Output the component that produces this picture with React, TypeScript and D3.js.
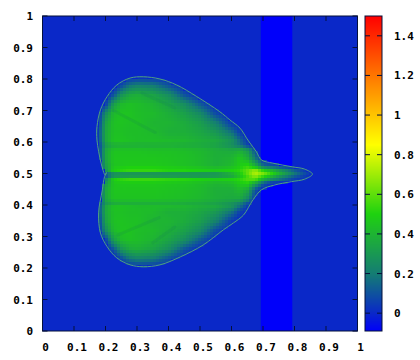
import React from "react";
import * as d3 from "d3";

const axisTicks = [0, 0.1, 0.2, 0.3, 0.4, 0.5, 0.6, 0.7, 0.8, 0.9, 1];
const colorTicks = [0, 0.2, 0.4, 0.6, 0.8, 1, 1.2, 1.4];
const colorDomain = [-0.09, 1.5];
const paletteValues = [-0.09, 0, 0.2, 0.4, 0.5, 0.85, 1.5];
const paletteColors = ["#0000fa", "#0a28c8", "#147d73", "#1eb432", "#1ed20f", "#ffff00", "#ff0000"];
const baseValue = 0;
const bandValue = -0.09;
const bandRange = [0.693, 0.793];

const outlineX = [0.199, 0.186, 0.173, 0.173, 0.184, 0.205, 0.236, 0.278, 0.32, 0.373, 0.426, 0.49, 0.563, 0.595, 0.627, 0.652, 0.679, 0.695, 0.731, 0.794, 0.832, 0.857, 0.832, 0.79, 0.735, 0.695, 0.668, 0.638, 0.606, 0.574, 0.51, 0.437, 0.373, 0.32, 0.278, 0.236, 0.205, 0.184, 0.178, 0.19, 0.197, 0.203];
const outlineY = [0.495, 0.533, 0.606, 0.649, 0.702, 0.744, 0.781, 0.803, 0.807, 0.8, 0.781, 0.744, 0.696, 0.67, 0.644, 0.606, 0.569, 0.543, 0.533, 0.521, 0.514, 0.498, 0.482, 0.474, 0.463, 0.448, 0.416, 0.368, 0.343, 0.321, 0.273, 0.235, 0.21, 0.204, 0.21, 0.232, 0.268, 0.311, 0.375, 0.448, 0.49, 0.503];

const gridX = [0.15, 0.175, 0.2, 0.225, 0.25, 0.275, 0.3, 0.35, 0.4, 0.45, 0.5, 0.55, 0.6, 0.625, 0.65, 0.675, 0.7, 0.725, 0.75, 0.8, 0.85, 0.875];
const gridY = [0.2, 0.23, 0.26, 0.29, 0.32, 0.35, 0.38, 0.395, 0.406, 0.42, 0.45, 0.47, 0.483, 0.495, 0.503, 0.511, 0.525, 0.55, 0.575, 0.59, 0.605, 0.63, 0.66, 0.69, 0.72, 0.75, 0.78, 0.81];
const gridValues = [
  [0, 0, 0, 0, 0, 0, 0, 0, 0, 0, 0, 0, 0, 0, 0, 0, 0, 0, 0, 0, 0, 0],
  [0, 0, 0, 0, 0.08, 0.18, 0.22, 0.2, 0.1, 0, 0, 0, 0, 0, 0, 0, 0, 0, 0, 0, 0, 0],
  [0, 0, 0, 0.1, 0.28, 0.36, 0.38, 0.34, 0.26, 0.1, 0, 0, 0, 0, 0, 0, 0, 0, 0, 0, 0, 0],
  [0, 0, 0.06, 0.32, 0.42, 0.44, 0.43, 0.4, 0.34, 0.26, 0.12, 0, 0, 0, 0, 0, 0, 0, 0, 0, 0, 0],
  [0, 0, 0.26, 0.42, 0.45, 0.45, 0.43, 0.42, 0.38, 0.33, 0.25, 0.08, 0, 0, 0, 0, 0, 0, 0, 0, 0, 0],
  [0, 0.01, 0.34, 0.44, 0.45, 0.44, 0.44, 0.4, 0.4, 0.37, 0.32, 0.22, 0.04, 0, 0, 0, 0, 0, 0, 0, 0, 0],
  [0, 0.05, 0.36, 0.44, 0.44, 0.43, 0.43, 0.42, 0.38, 0.38, 0.35, 0.3, 0.18, 0.06, 0, 0, 0, 0, 0, 0, 0, 0],
  [0, 0.04, 0.36, 0.45, 0.45, 0.44, 0.43, 0.43, 0.42, 0.41, 0.38, 0.36, 0.28, 0.16, 0.04, 0, 0, 0, 0, 0, 0, 0],
  [0, 0.03, 0.3, 0.37, 0.38, 0.38, 0.38, 0.38, 0.38, 0.37, 0.36, 0.33, 0.28, 0.22, 0.1, 0.01, 0, 0, 0, 0, 0, 0],
  [0, 0.02, 0.36, 0.45, 0.45, 0.45, 0.45, 0.45, 0.44, 0.43, 0.41, 0.38, 0.36, 0.36, 0.24, 0.04, 0, 0, 0, 0, 0, 0],
  [0, 0.01, 0.36, 0.46, 0.46, 0.46, 0.46, 0.46, 0.45, 0.44, 0.42, 0.38, 0.38, 0.42, 0.36, 0.1, 0, 0, 0, 0, 0, 0],
  [0, 0, 0.3, 0.46, 0.47, 0.47, 0.47, 0.47, 0.46, 0.45, 0.43, 0.4, 0.42, 0.48, 0.5, 0.34, 0.12, 0.03, 0.01, 0, 0, 0],
  [0, 0, 0.22, 0.5, 0.53, 0.55, 0.55, 0.55, 0.53, 0.52, 0.5, 0.48, 0.5, 0.52, 0.58, 0.6, 0.4, 0.28, 0.2, 0.06, 0, 0],
  [0, 0, 0.05, 0.2, 0.22, 0.22, 0.22, 0.22, 0.22, 0.22, 0.22, 0.24, 0.3, 0.42, 0.56, 0.7, 0.58, 0.45, 0.32, 0.14, 0.01, 0],
  [0, 0, 0.15, 0.3, 0.32, 0.32, 0.32, 0.32, 0.32, 0.32, 0.32, 0.32, 0.42, 0.5, 0.62, 0.74, 0.66, 0.55, 0.42, 0.2, 0.03, 0],
  [0, 0, 0.3, 0.5, 0.53, 0.55, 0.55, 0.55, 0.52, 0.52, 0.5, 0.48, 0.5, 0.52, 0.6, 0.68, 0.5, 0.4, 0.3, 0.12, 0, 0],
  [0, 0, 0.32, 0.45, 0.46, 0.47, 0.47, 0.47, 0.46, 0.44, 0.42, 0.38, 0.42, 0.48, 0.52, 0.38, 0.15, 0.1, 0.06, 0.01, 0, 0],
  [0, 0, 0.36, 0.46, 0.46, 0.46, 0.46, 0.46, 0.45, 0.44, 0.42, 0.38, 0.4, 0.46, 0.38, 0.18, 0.02, 0, 0, 0, 0, 0],
  [0, 0.01, 0.36, 0.45, 0.45, 0.45, 0.45, 0.44, 0.44, 0.43, 0.41, 0.38, 0.36, 0.38, 0.3, 0.08, 0, 0, 0, 0, 0, 0],
  [0, 0.02, 0.3, 0.37, 0.38, 0.38, 0.38, 0.38, 0.38, 0.37, 0.36, 0.33, 0.26, 0.18, 0.07, 0.01, 0, 0, 0, 0, 0, 0],
  [0, 0.04, 0.36, 0.45, 0.45, 0.44, 0.43, 0.43, 0.42, 0.41, 0.38, 0.36, 0.28, 0.16, 0.04, 0, 0, 0, 0, 0, 0, 0],
  [0, 0.05, 0.36, 0.44, 0.44, 0.43, 0.43, 0.42, 0.38, 0.38, 0.35, 0.3, 0.18, 0.06, 0, 0, 0, 0, 0, 0, 0, 0],
  [0, 0.02, 0.34, 0.44, 0.45, 0.44, 0.44, 0.4, 0.4, 0.37, 0.32, 0.22, 0.04, 0, 0, 0, 0, 0, 0, 0, 0, 0],
  [0, 0, 0.26, 0.42, 0.45, 0.45, 0.43, 0.42, 0.38, 0.33, 0.25, 0.08, 0, 0, 0, 0, 0, 0, 0, 0, 0, 0],
  [0, 0, 0.06, 0.32, 0.42, 0.44, 0.43, 0.4, 0.34, 0.26, 0.12, 0, 0, 0, 0, 0, 0, 0, 0, 0, 0, 0],
  [0, 0, 0, 0.1, 0.28, 0.36, 0.38, 0.34, 0.26, 0.1, 0, 0, 0, 0, 0, 0, 0, 0, 0, 0, 0, 0],
  [0, 0, 0, 0, 0.08, 0.18, 0.22, 0.2, 0.1, 0, 0, 0, 0, 0, 0, 0, 0, 0, 0, 0, 0, 0],
  [0, 0, 0, 0, 0, 0, 0, 0, 0, 0, 0, 0, 0, 0, 0, 0, 0, 0, 0, 0, 0, 0],
];

const streakStartX = [0.225, 0.316, 0.24, 0.35];
const streakStartY = [0.7, 0.755, 0.305, 0.28];
const streakEndX = [0.358, 0.42, 0.37, 0.42];
const streakEndY = [0.63, 0.708, 0.36, 0.33];

const FONT = "'DejaVu Sans Mono', monospace";
const INK = "#05103a";

const x = d3.scaleLinear().domain([0, 1]).range([42.5, 357.5]);
const y = d3.scaleLinear().domain([0, 1]).range([331, 16]);
const cbY = d3.scaleLinear().domain(colorDomain).range([331, 16]);
const color = d3.scaleLinear<string>().domain(paletteValues).range(paletteColors).clamp(true);

const colIndex = d3.scaleLinear().domain(gridX).range(gridX.map((_, i) => i)).clamp(true);
const rowIndex = d3.scaleLinear().domain(gridY).range(gridY.map((_, i) => i)).clamp(true);

function sample(dx: number, dy: number) {
  const ci = colIndex(dx);
  const ri = rowIndex(dy);
  const c0 = Math.min(Math.floor(ci), gridX.length - 2);
  const r0 = Math.min(Math.floor(ri), gridY.length - 2);
  const tc = ci - c0;
  const tr = ri - r0;
  const a = gridValues[r0][c0] * (1 - tc) + gridValues[r0][c0 + 1] * tc;
  const b = gridValues[r0 + 1][c0] * (1 - tc) + gridValues[r0 + 1][c0 + 1] * tc;
  return a * (1 - tr) + b * tr;
}

const outline: [number, number][] = outlineX.map((v, i) => [v, outlineY[i]]);
const outlinePath = d3
  .line<[number, number]>()
  .x((d) => x(d[0]))
  .y((d) => y(d[1]))
  .curve(d3.curveCatmullRomClosed.alpha(0.5))(outline) as string;

const CELL = 3;
const cells = d3.range(x(0.15), x(0.88), CELL).flatMap((px) =>
  d3.range(y(0.82), y(0.19), CELL).flatMap((py) => {
    const dx = x.invert(px + CELL / 2);
    const dy = y.invert(py + CELL / 2);
    if (!d3.polygonContains(outline, [dx, dy])) return [];
    return [{ px, py, fill: color(sample(dx, dy)) }];
  })
);

const cbRows = d3.range(16, 331, 1);

export default function App() {
  return (
    <svg
      width={420}
      height={360}
      style={{ position: "absolute", left: 0, top: 0, background: "#fff" }}
      fontFamily={FONT}
      fontSize={11}
      fontWeight="bold"
    >
      <rect x={x(0)} y={y(1)} width={x(1) - x(0)} height={y(0) - y(1)} fill={color(baseValue)} />
      <rect
        x={x(bandRange[0])}
        y={y(1)}
        width={x(bandRange[1]) - x(bandRange[0])}
        height={y(0) - y(1)}
        fill={color(bandValue)}
      />
      <g shapeRendering="crispEdges">
        {cells.map((c, i) => (
          <rect key={i} x={c.px} y={c.py} width={CELL} height={CELL} fill={c.fill} />
        ))}
      </g>
      <g stroke="#147d5a" strokeOpacity={0.16} strokeWidth={3} strokeLinecap="round">
        {streakStartX.map((v, i) => (
          <line key={i} x1={x(v)} y1={y(streakStartY[i])} x2={x(streakEndX[i])} y2={y(streakEndY[i])} />
        ))}
      </g>
      <path d={outlinePath} fill="none" stroke="#4fa080" strokeWidth={1} />

      <g stroke={INK} strokeWidth={1}>
        {axisTicks.map((t) => (
          <g key={t}>
            <line x1={x(t)} x2={x(t)} y1={y(0)} y2={y(0) - 5} />
            <line x1={x(t)} x2={x(t)} y1={y(1)} y2={y(1) + 5} />
            <line x1={x(0)} x2={x(0) + 5} y1={y(t)} y2={y(t)} />
            <line x1={x(1)} x2={x(1) - 5} y1={y(t)} y2={y(t)} />
          </g>
        ))}
      </g>
      <rect x={x(0)} y={y(1)} width={x(1) - x(0)} height={y(0) - y(1)} fill="none" stroke={INK} />

      {axisTicks.map((t) => (
        <text key={t} x={x(t) + 3} y={351} textAnchor="middle" fill="#000">
          {String(t)}
        </text>
      ))}
      {axisTicks.map((t) => (
        <text key={t} x={33} y={y(t) + 4} textAnchor="end" fill="#000">
          {String(t)}
        </text>
      ))}

      <g shapeRendering="crispEdges">
        {cbRows.map((py) => (
          <rect key={py} x={365} y={py} width={17} height={1} fill={color(cbY.invert(py + 0.5))} />
        ))}
      </g>
      <rect x={365} y={16} width={17} height={315} fill="none" stroke={INK} />
      <g stroke={INK} strokeWidth={1}>
        {colorTicks.map((t) => (
          <g key={t}>
            <line x1={365} x2={370} y1={cbY(t)} y2={cbY(t)} />
            <line x1={382} x2={377} y1={cbY(t)} y2={cbY(t)} />
          </g>
        ))}
      </g>
      {colorTicks.map((t) => (
        <text key={t} x={394} y={cbY(t) + 4} fill="#000">
          {String(t)}
        </text>
      ))}
    </svg>
  );
}
